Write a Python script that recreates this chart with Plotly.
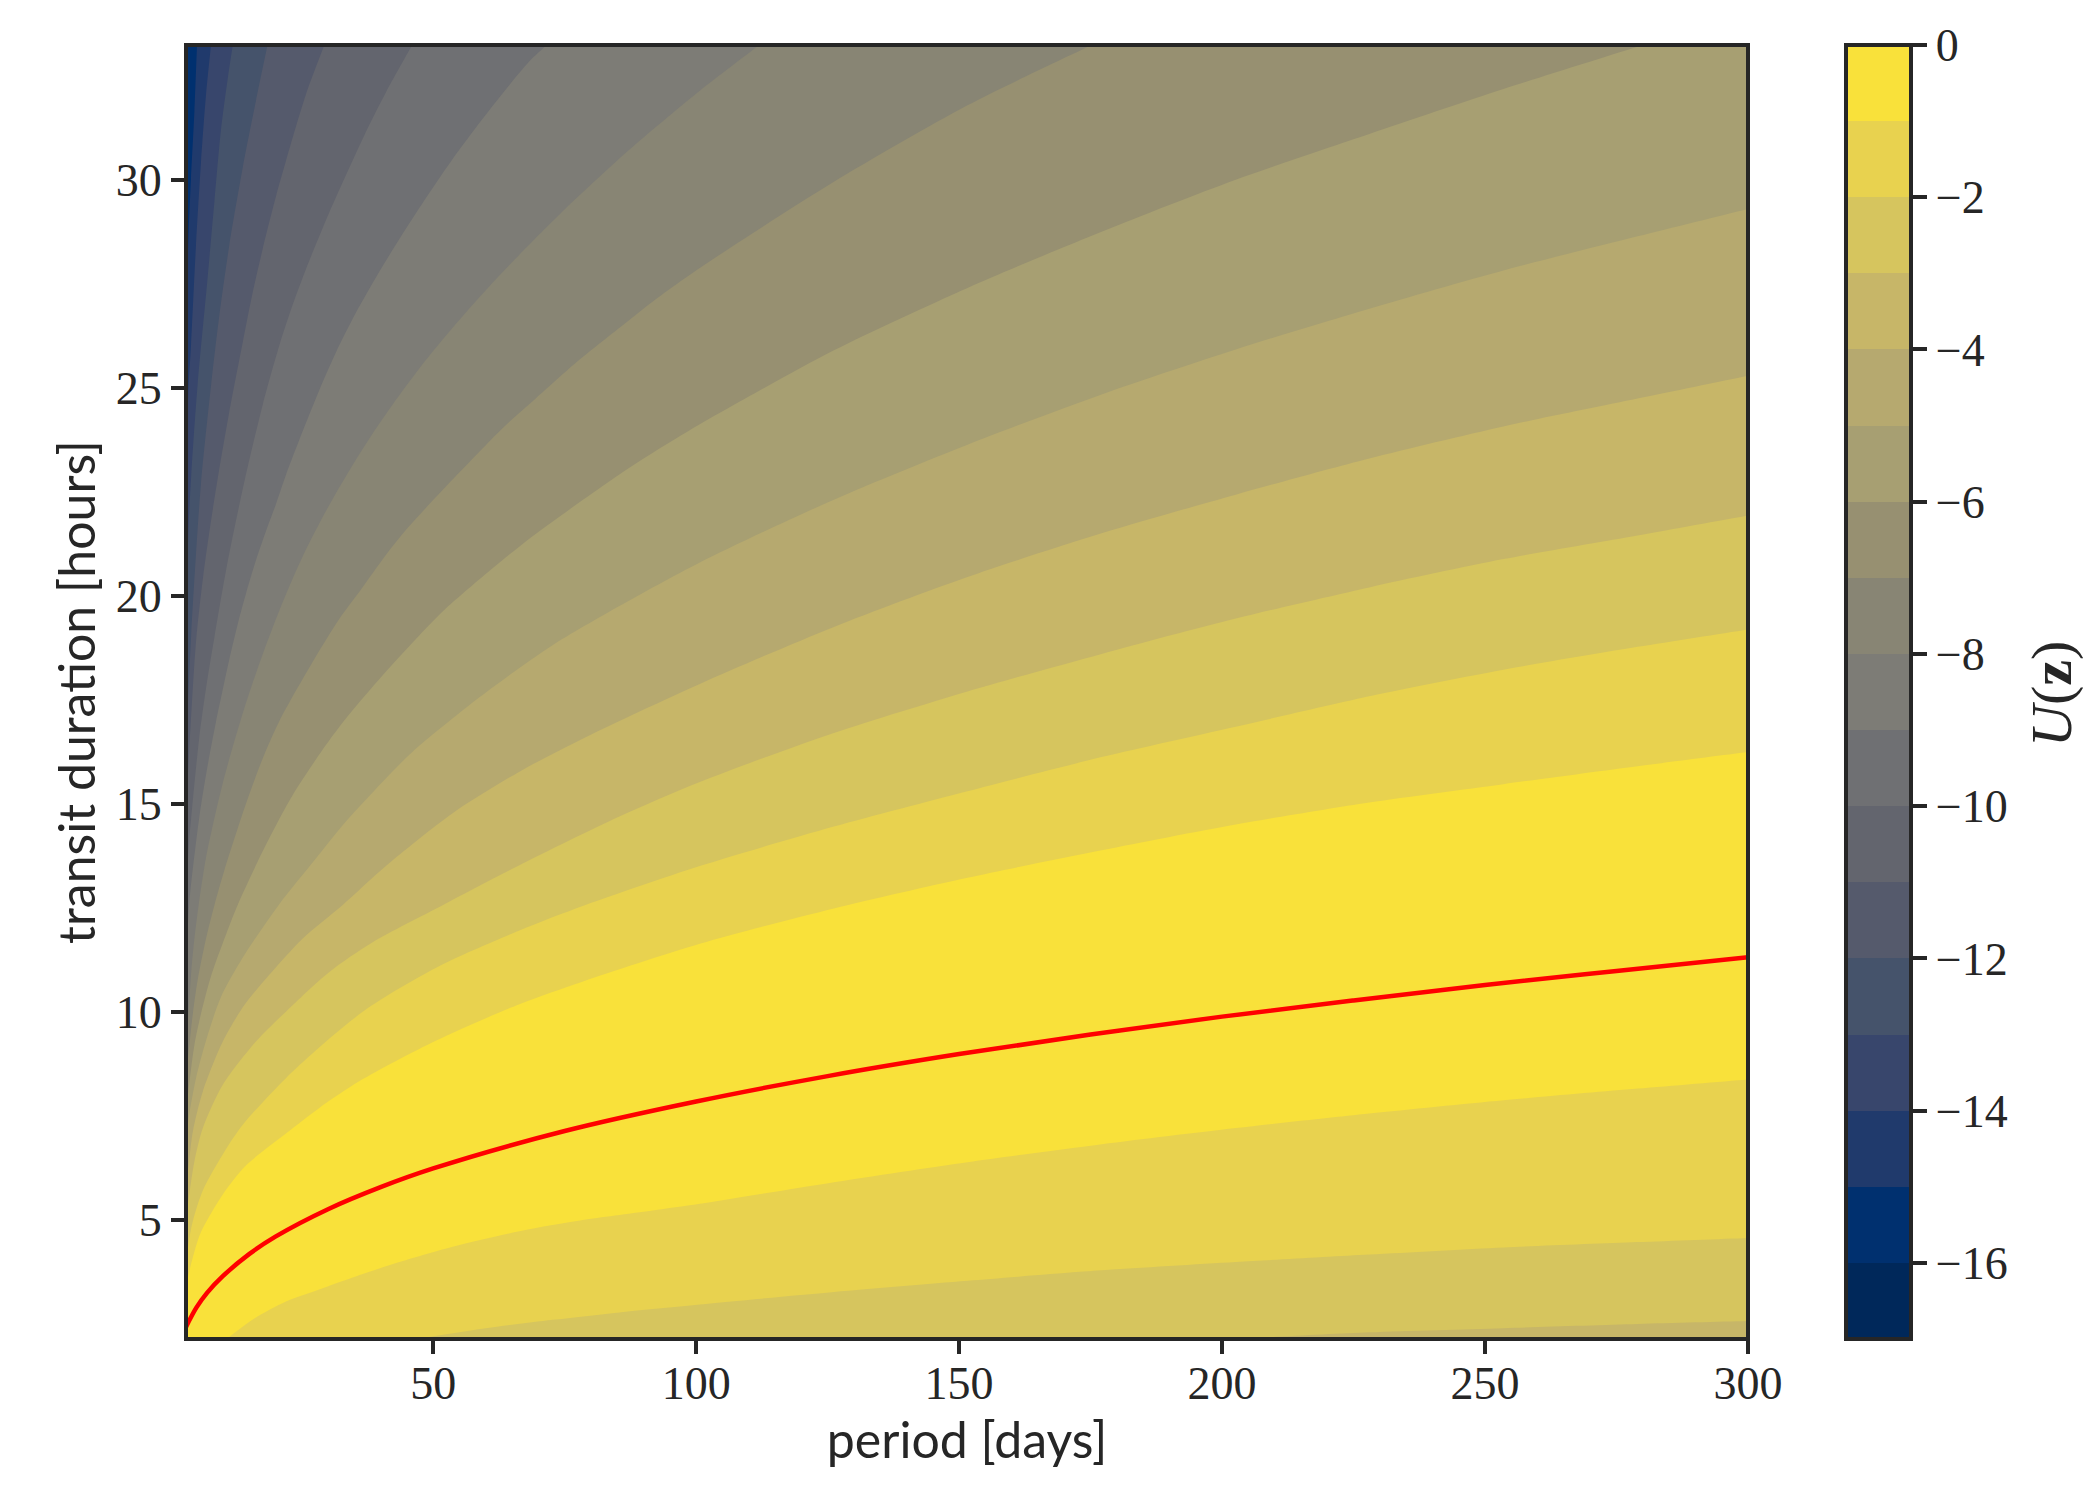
import plotly.graph_objects as go

# Axis limits
X_MIN, X_MAX = 3.0, 300.0
Y_MIN, Y_MAX = 2.13, 33.24

# Colour of each band, from U in [0,-1] down to U in [-16,-17]
BANDS = ["#f9e13a", "#e8d24f", "#d6c55e", "#c7b668", "#b6a96f", "#a79f72", "#979071", "#888574",
         "#7d7c76", "#6f7073", "#63656e", "#555a6c", "#45536b", "#38466c", "#203a6c", "#00306f", "#00285a"]
CB_TICKS = [0, -2, -4, -6, -8, -10, -12, -14, -16]
X_TICKS = [50, 100, 150, 200, 250, 300]
Y_TICKS = [5, 10, 15, 20, 25, 30]

# Upper contour boundaries U = -k (period, duration)
P_U1 = [3, 3.4, 4.6, 5.85, 9.97, 14.4, 22, 28.3, 36, 50.5, 66.4, 78.4, 100.7, 126.2, 151.6, 177.1, 202.6, 228, 253.5, 279, 300]
D_U1 = [3.3, 3.63, 4.23, 4.7, 5.6, 6.3, 7.07, 7.68, 8.33, 9.3, 10.18, 10.72, 11.63, 12.48, 13.22, 13.88, 14.5, 15.03, 15.47, 15.9, 16.24]
P_U2 = [3, 3.44, 4.27, 6.2, 10.3, 13.8, 22, 30.9, 38.2, 51.2, 66.4, 78.7, 100.7, 126.2, 151.6, 177.1, 202.6, 228.7, 253.5, 279, 300]
D_U2 = [3.9, 4.39, 4.95, 5.7, 6.63, 7.28, 8.4, 9.42, 10.14, 11.1, 11.95, 12.55, 13.5, 14.45, 15.3, 16.12, 16.85, 17.6, 18.22, 18.77, 19.19]
P_U3 = [3, 3.5, 4.6, 6.2, 10, 16.3, 22, 30.2, 38.5, 51.8, 66.4, 85.4, 100.7, 126.2, 151.6, 177.1, 202.6, 228, 253.5, 279, 300]
D_U3 = [5.0, 5.5, 6.4, 7.2, 8.24, 9.28, 10.0, 10.95, 11.67, 12.56, 13.52, 14.69, 15.52, 16.7, 17.7, 18.6, 19.45, 20.2, 20.88, 21.45, 21.93]
P_U4 = [3, 3.5, 4.3, 6.2, 10, 14.1, 18.8, 25.2, 32.8, 41, 53.7, 66.4, 79, 100.7, 126.2, 151.6, 177.1, 202.6, 228, 253.5, 279, 300]
D_U4 = [5.8, 6.3, 7.12, 8.08, 9.28, 10.16, 10.88, 11.76, 12.565, 13.5, 14.77, 15.77, 16.6, 17.88, 19.25, 20.45, 21.5, 22.43, 23.3, 24.07, 24.74, 25.29]
P_U5 = [3, 3.5, 4.9, 6.8, 9.65, 13.8, 20.6, 27.7, 33.4, 40.4, 46.1, 56.9, 65.4, 72.7, 85.4, 100.7, 126.2, 151.6, 177.1, 202.6, 228, 253.5, 279, 300]
D_U5 = [6.9, 7.44, 8.4, 9.3, 10.35, 11.3, 12.56, 13.68, 14.57, 15.53, 16.25, 17.37, 18.17, 18.81, 19.75, 20.8, 22.31, 23.63, 24.84, 25.92, 26.9, 27.82, 28.64, 29.3]
P_U6 = [3, 3.44, 4.6, 5.85, 7.75, 10, 12.8, 18.2, 23.3, 29.6, 33.4, 40.4, 47.4, 52.4, 61.3, 68.9, 85.8, 91.7, 100.7, 126.2, 151.6, 177.1, 202.6, 228, 253.5, 280]
D_U6 = [7.6, 8.08, 9.2, 9.95, 10.85, 11.65, 12.56, 14.01, 15.21, 16.41, 17.05, 18.09, 19.05, 19.69, 20.66, 21.43, 22.95, 23.43, 24.12, 25.9, 27.4, 28.75, 30.0, 31.1, 32.18, 33.24]
P_U7 = [3, 3.44, 4.3, 5.2, 6.8, 8.4, 10.3, 14.4, 17.6, 20.7, 27.1, 32.2, 36, 41, 44.8, 54.5, 60, 64.5, 69.5, 77.8, 87.3, 91.7, 100.7, 126.2, 151.6, 175.2]
D_U7 = [8.4, 8.96, 9.95, 10.75, 11.75, 12.56, 13.4, 15.0, 16.09, 16.97, 18.41, 19.45, 20.1, 20.98, 21.58, 22.9, 23.62, 24.18, 24.74, 25.67, 26.63, 27.07, 27.88, 29.95, 31.79, 33.24]
P_U8 = [3, 3.4, 4, 4.6, 5.4, 6.8, 10, 14.1, 17.6, 21.4, 25.2, 29.9, 34.5, 38.5, 42.3, 47.4, 51.8, 55.6, 59.4, 64.5, 68.9, 76.5, 84.7, 89.2, 100.7, 112]
D_U8 = [9.2, 9.84, 10.96, 11.76, 12.56, 13.7, 15.5, 17.3, 18.6, 19.85, 20.95, 22.1, 23.1, 23.9, 24.6, 25.47, 26.16, 26.72, 27.26, 27.95, 28.52, 29.47, 30.43, 30.93, 32.14, 33.24]
P_U9 = [3, 3.6, 5.5, 6.8, 8.7, 10, 11.2, 13.1, 14.4, 16.3, 18.2, 20.1, 22, 25.8, 28.3, 31.5, 35.3, 39.8, 44.2, 49.9, 53.7, 58.1, 61.9, 64.5, 68.3, 71.6]
D_U9 = [10.9, 12.56, 14.65, 15.69, 16.97, 17.75, 18.45, 19.45, 20.05, 20.85, 21.55, 22.2, 22.9, 24.15, 24.93, 25.85, 26.8, 27.8, 28.7, 29.8, 30.5, 31.25, 31.87, 32.28, 32.85, 33.24]
P_U10 = [3, 3.6, 5.5, 6.8, 8.4, 10.6, 12.5, 14.2, 17.6, 20.7, 23.3, 25.8, 28.3, 30.2, 34.1, 37.2, 41, 46]
D_U10 = [12.8, 14.09, 16.57, 17.77, 19.0, 20.6, 21.8, 22.8, 24.6, 26.0, 27.0, 27.85, 28.63, 29.2, 30.3, 31.15, 32.1, 33.24]
P_U11 = [3, 3.6, 4.9, 6.2, 7.4, 9.2, 11.2, 13.8, 15.7, 17.6, 20.1, 22, 25.8, 29.3]
D_U11 = [14.8, 16.25, 18.89, 20.4, 21.5, 22.95, 24.4, 26.1, 27.3, 28.35, 29.6, 30.45, 32.05, 33.24]
P_U12 = [3, 3.4, 4, 4.9, 5.85, 7.8, 9.3, 11.2, 13.8, 16.3, 18.5]
D_U12 = [16.8, 17.5, 19.1, 21.0, 22.7, 25.1, 26.7, 28.4, 30.3, 31.9, 33.24]
P_U13 = [3, 3.5, 4, 5.2, 7.1, 8.4, 9.65, 10.9, 11.9]
D_U13 = [19.5, 21.7, 22.9, 25.06, 27.63, 29.47, 31.2, 32.4, 33.24]
P_U14 = [3, 3.44, 3.95, 4.9, 5.85, 6.8, 7.75]
D_U14 = [23.0, 24.9, 26.02, 28.43, 30.43, 32.04, 33.24]
P_U15 = [3, 3.5, 3.95, 4.6, 5.1]
D_U15 = [26.5, 28.75, 30.03, 31.64, 33.24]

# Lower contour boundaries
P_L1 = [10.7, 15.7, 22, 28.3, 41, 53.7, 66.4, 79, 91.7, 100.7, 126.2, 151.6, 177.1, 202.6, 228, 253.5, 279, 300]
D_L1 = [2.13, 2.6, 3.03, 3.32, 3.88, 4.35, 4.72, 5.0, 5.22, 5.38, 5.9, 6.38, 6.81, 7.2, 7.55, 7.87, 8.15, 8.37]
P_L2 = [46.7, 60, 72.7, 85.4, 100.7, 126.2, 151.6, 177.1, 202.6, 228, 253.5, 279, 300]
D_L2 = [2.13, 2.39, 2.59, 2.77, 2.96, 3.26, 3.53, 3.78, 3.98, 4.16, 4.33, 4.46, 4.56]
P_L3 = [202.6, 228, 253.5, 279, 300]
D_L3 = [2.13, 2.29, 2.39, 2.49, 2.56]

# Red curve
P_RED = [3, 5, 7, 10, 15, 20, 30, 40, 50, 75, 100, 125, 150, 175, 200, 225, 250, 275, 300]
D_RED = [2.42, 2.89, 3.24, 3.64, 4.17, 4.59, 5.25, 5.78, 6.23, 7.13, 7.84, 8.45, 8.98, 9.45, 9.88, 10.27, 10.64, 10.98, 11.31]

INK = "#262626"
NUM_FONT = "Liberation Serif"
LAB_FONT = "Lato"

UPPER = [(P_U1, D_U1), (P_U2, D_U2), (P_U3, D_U3), (P_U4, D_U4), (P_U5, D_U5), (P_U6, D_U6), (P_U7, D_U7), (P_U8, D_U8),
         (P_U9, D_U9), (P_U10, D_U10), (P_U11, D_U11), (P_U12, D_U12), (P_U13, D_U13), (P_U14, D_U14), (P_U15, D_U15)]
LOWER = [(P_L1, D_L1), (P_L2, D_L2), (P_L3, D_L3)]

fig = go.Figure()


def region_below(px, dy, colour):
    # everything under the boundary; the closing path runs outside the axis limits and is clipped away
    s0 = (dy[1] - dy[0]) / (px[1] - px[0])
    s1 = (dy[-1] - dy[-2]) / (px[-1] - px[-2])
    step0 = min(0.5, (px[1] - px[0]) / 2) if px[0] <= X_MIN else (px[1] - px[0]) / 2
    step1 = (px[-1] - px[-2]) / 2
    xs = [px[0] - step0] + list(px) + [px[-1] + step1]
    ys = [dy[0] - s0 * step0] + list(dy) + [dy[-1] + s1 * step1]
    far_x, far_y = X_MAX + 60, Y_MAX + 6
    low_y, left_x = Y_MIN - 6, X_MIN - 30
    xs += [far_x, far_x, left_x, left_x]
    ys += [far_y if px[-1] < X_MAX else ys[-1], low_y, low_y, low_y]
    fig.add_trace(go.Scatter(x=xs, y=ys, mode="lines", fill="toself", fillcolor=colour,
                             line=dict(width=0, color=colour, shape="spline", smoothing=0.8),
                             hoverinfo="skip", showlegend=False))


for k in range(len(UPPER), 0, -1):
    region_below(UPPER[k - 1][0], UPPER[k - 1][1], BANDS[k - 1])
for k, (px, dy) in enumerate(LOWER, start=1):
    region_below(px, dy, BANDS[k])

fig.add_trace(go.Scatter(x=P_RED, y=D_RED, mode="lines", line=dict(color="#ff0000", width=4.5, shape="spline"),
                         hoverinfo="skip", showlegend=False))

# Discrete colour bar
n = len(BANDS)
scale = []
for i, c in enumerate(reversed(BANDS)):
    scale += [[i / n, c], [(i + 1) / n, c]]
fig.add_trace(go.Scatter(
    x=[None], y=[None], mode="markers", showlegend=False, hoverinfo="skip",
    marker=dict(color=[-n, 0], cmin=-n, cmax=0, colorscale=scale, showscale=True,
                colorbar=dict(
                    x=1.0627, xanchor="left", xpad=0, y=0, yanchor="bottom", ypad=0,
                    lenmode="pixels", len=1294, thicknessmode="pixels", thickness=65,
                    outlinewidth=4, outlinecolor=INK, ticks="outside", ticklen=14, tickwidth=4, tickcolor=INK,
                    tickvals=CB_TICKS, ticktext=["0"] + ["\u2212%d" % abs(v) for v in CB_TICKS[1:]],
                    tickfont=dict(family=NUM_FONT, size=46, color=INK),
                ))))

axis = dict(showgrid=False, zeroline=False, showline=False, ticks="outside", ticklen=14, tickwidth=4, tickcolor=INK,
            tickfont=dict(family=NUM_FONT, size=46, color=INK))
fig.update_xaxes(range=[X_MIN, X_MAX], tickvals=X_TICKS, ticktext=[str(v) for v in X_TICKS], ticklabelstandoff=-10,
                 title=dict(text="period [days]", font=dict(family=LAB_FONT, size=50, color=INK), standoff=6), **axis)
fig.update_yaxes(range=[Y_MIN, Y_MAX], tickvals=Y_TICKS, ticktext=[str(v) for v in Y_TICKS],
                 title=dict(text="transit duration [hours]", font=dict(family=LAB_FONT, size=50, color=INK), standoff=4), **axis)

fig.add_shape(type="rect", xref="paper", yref="paper", x0=0, x1=1, y0=0, y1=1,
              line=dict(color=INK, width=4), fillcolor="rgba(0,0,0,0)", layer="above")

fig.add_annotation(text="<i>U</i>(<b>z</b>)", xref="paper", yref="paper", x=1.1946, y=0.4985, textangle=-90,
                   showarrow=False, xanchor="center", yanchor="middle",
                   font=dict(family=NUM_FONT, size=58, color=INK))

fig.update_layout(width=2099, height=1493, autosize=False, paper_bgcolor="white", plot_bgcolor=BANDS[15],
                  margin=dict(l=186, r=351, t=45, b=154, pad=0), showlegend=False)

fig.write_html("out.html", config=dict(displayModeBar=False),
               post_script="document.body.style.margin='0';document.body.style.overflow='hidden';")
